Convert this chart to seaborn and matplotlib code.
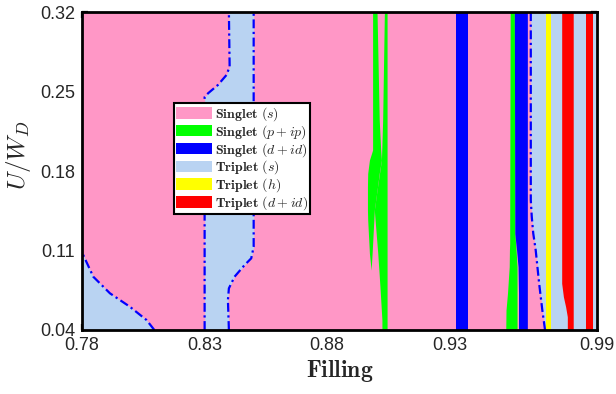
import matplotlib
matplotlib.use('Agg')
import matplotlib.pyplot as plt
import seaborn as sns
from matplotlib.patches import Patch

# ---------------- data ----------------
x_range = [0.78, 0.99]
y_range = [0.04, 0.32]
x_ticks = [0.78, 0.83, 0.88, 0.93, 0.99]
y_ticks = [0.04, 0.11, 0.18, 0.25, 0.32]
x_tick_labels = ['0.78', '0.83', '0.88', '0.93', '0.99']
y_tick_labels = ['0.04', '0.11', '0.18', '0.25', '0.32']

phase_names = [r'$\mathbf{Singlet}\ (s)$', r'$\mathbf{Singlet}\ (p+ip)$',
               r'$\mathbf{Singlet}\ (d+id)$', r'$\mathbf{Triplet}\ (s)$',
               r'$\mathbf{Triplet}\ (h)$', r'$\mathbf{Triplet}\ (d+id)$']

# Triplet (s): lower-left pocket (boundary from x=0.78 side)
ts1_y = [0.04, 0.0488, 0.0605, 0.0723, 0.0869, 0.1060, 0.1078]
ts1_x = [0.8095, 0.8063, 0.7995, 0.7914, 0.7846, 0.7805, 0.78]

# Triplet (s): band near 0.83-0.85
ts2_y = [0.04, 0.0664, 0.0767, 0.0869, 0.0972, 0.1031, 0.1133,
         0.2451, 0.2484, 0.2557, 0.2645, 0.2718, 0.32]
ts2_left = [0.830, 0.830, 0.830, 0.830, 0.830, 0.830, 0.830,
            0.830, 0.8314, 0.8354, 0.8389, 0.8402, 0.8399]
ts2_right = [0.8399, 0.8395, 0.8399, 0.8422, 0.8463, 0.8490, 0.8500,
             0.8500, 0.8500, 0.8500, 0.8500, 0.8500, 0.8500]

# Singlet (p+ip): branch A near 0.90
spa_y = [0.0928, 0.1075, 0.1368, 0.1456, 0.1661, 0.1779, 0.1896, 0.1985, 0.2249, 0.32]
spa_left = [0.8979, 0.8972, 0.8965, 0.8964, 0.8964, 0.8965, 0.8972, 0.8985, 0.8985, 0.8985]
spa_right = [0.8979, 0.8983, 0.8990, 0.8992, 0.9005, 0.9012, 0.9021, 0.9018, 0.9012, 0.9003]

# Singlet (p+ip): branch B near 0.90
spb_y = [0.04, 0.0488, 0.0781, 0.1075, 0.1456, 0.1661, 0.1896, 0.2249, 0.32]
spb_left = [0.9023, 0.9023, 0.9015, 0.9006, 0.8992, 0.9005, 0.9021, 0.9026, 0.9033]
spb_right = [0.9044, 0.9044, 0.9044, 0.9044, 0.9044, 0.9044, 0.9044, 0.9044, 0.9044]

# Singlet (d+id): strip near 0.935
sd1_y = [0.04, 0.32]
sd1_left = [0.9325, 0.9325]
sd1_right = [0.9376, 0.9376]

# Singlet (p+ip): strip near 0.955
sp2_y = [0.04, 0.0576, 0.0723, 0.0957, 0.1104, 0.1163, 0.1251, 0.32]
sp2_left = [0.9528, 0.9529, 0.9535, 0.9542, 0.9543, 0.9544, 0.9544, 0.9546]
sp2_right = [0.9574, 0.9574, 0.9574, 0.9574, 0.9570, 0.9568, 0.9565, 0.9563]

# Singlet (d+id): strip near 0.96
sd2_y = [0.04, 0.0576, 0.0723, 0.0957, 0.1104, 0.1163, 0.1251, 0.32]
sd2_left = [0.9580, 0.9580, 0.9580, 0.9578, 0.9572, 0.9569, 0.9565, 0.9563]
sd2_right = [0.9616, 0.9616, 0.9616, 0.9616, 0.9616, 0.9616, 0.9616, 0.9616]

# Triplet (s): right region, left boundary
ts3_y = [0.04, 0.0418, 0.0576, 0.0811, 0.1104, 0.1251, 0.1397, 0.1544, 0.32]
ts3_left = [0.9688, 0.9687, 0.9677, 0.9664, 0.9650, 0.9640, 0.9634, 0.9630, 0.9630]

# Triplet (h): strip
th_y = [0.04, 0.32]
th_left = [0.9691, 0.9691]
th_right = [0.9711, 0.9711]

# Triplet (d+id): strip 1
td1_y = [0.04, 0.0418, 0.0517, 0.0605, 0.0693, 0.0811, 0.32]
td1_left = [0.9779, 0.9779, 0.9779, 0.9772, 0.9763, 0.9756, 0.9756]
td1_right = [0.9803, 0.9803, 0.9803, 0.9803, 0.9803, 0.9803, 0.9803]

# Triplet (d+id): strip 2
td2_y = [0.04, 0.32]
td2_left = [0.9856, 0.9856]
td2_right = [0.9885, 0.9885]

# ---------------- styles ----------------
phase_colors = ['#FF97C6', '#00FF00', '#0000FF', '#B9D3F2', '#FFFF00', '#FF0000']
line_color = '#0000FF'

sns.set_style('ticks')
plt.rcParams['font.family'] = ['Liberation Sans', 'DejaVu Sans']
plt.rcParams['mathtext.fontset'] = 'cm'

fig = plt.figure(figsize=(6.16, 3.94), dpi=100)
ax = fig.add_axes([82 / 616, 64 / 394, 515 / 616, 318 / 394])

def band(y, xl, xr, c):
    ax.fill_betweenx(y, xl, xr, color=c, linewidth=0, zorder=1)

# background singlet (s)
band(y_range, [x_range[0]] * 2, [x_range[1]] * 2, phase_colors[0])
# triplet (s) regions
band(ts1_y, [x_range[0]] * len(ts1_y), ts1_x, phase_colors[3])
band(ts2_y, ts2_left, ts2_right, phase_colors[3])
band(ts3_y, ts3_left, [x_range[1]] * len(ts3_y), phase_colors[3])
# singlet p+ip
band(spa_y, spa_left, spa_right, phase_colors[1])
band(spb_y, spb_left, spb_right, phase_colors[1])
band(sp2_y, sp2_left, sp2_right, phase_colors[1])
# singlet d+id
band(sd1_y, sd1_left, sd1_right, phase_colors[2])
band(sd2_y, sd2_left, sd2_right, phase_colors[2])
# triplet h
band(th_y, th_left, th_right, phase_colors[4])
# triplet d+id
band(td1_y, td1_left, td1_right, phase_colors[5])
band(td2_y, td2_left, td2_right, phase_colors[5])

# phase boundaries (dash-dot)
ls = (0, (4, 1.6, 1, 1.6))
for xs, ys in [(ts1_x, ts1_y), (ts2_left, ts2_y), (ts2_right, ts2_y), (ts3_left, ts3_y)]:
    sns.lineplot(x=xs, y=ys, sort=False, estimator=None, color=line_color,
                 linewidth=1.6, linestyle=ls, ax=ax, zorder=2)

ax.set_xlim(x_range)
ax.set_ylim(y_range)
ax.set_xticks(x_ticks)
ax.set_xticklabels(x_tick_labels)
ax.set_yticks(y_ticks)
ax.set_yticklabels(y_tick_labels)
ax.tick_params(direction='in', top=True, right=True, length=4, width=1.6,
               labelsize=13, pad=5, color='black')
for s in ax.spines.values():
    s.set_linewidth(2.0)
    s.set_color('black')
    s.set_zorder(3)

ax.set_xlabel(r'$\mathbf{Filling}$', fontsize=17, labelpad=3)
ax.set_ylabel(r'$U/W_D$', fontsize=18)
ax.yaxis.set_label_coords(-0.095, 0.55)

handles = [Patch(facecolor=c, edgecolor='none') for c in phase_colors]
leg = ax.legend(handles, phase_names, loc='upper left',
                bbox_to_anchor=(0.1786, 0.713), borderaxespad=0,
                fontsize=10, handlelength=2.6, handleheight=0.9,
                labelspacing=0.0, handletextpad=0.2, borderpad=0.15,
                fancybox=False, framealpha=1, edgecolor='black')
leg.get_frame().set_linewidth(1.5)
leg.set_zorder(5)

fig.savefig('out.png', dpi=100)
